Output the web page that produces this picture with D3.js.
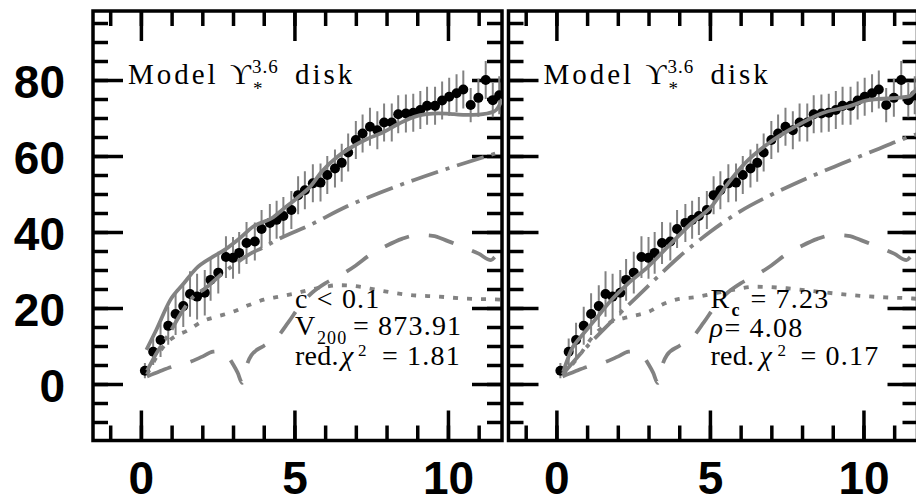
<!DOCTYPE html>
<html>
<head>
<meta charset="utf-8">
<script src="https://cdn.jsdelivr.net/npm/d3@7"></script>
<style>
  body { margin: 0; background: #fff; }
  svg { display: block; }
  .serif { font-family: "Liberation Serif", "Times New Roman", serif; fill: #000; }
</style>
</head>
<body>
<svg id="chart" width="916" height="503"></svg>
<script>
// observed rotation curve (same in both panels)
const radius = [0.13, 0.40, 0.64, 0.89, 1.13, 1.38, 1.60, 1.83, 2.08, 2.27,
  2.52, 2.77, 3.00, 3.20, 3.44, 3.71, 3.93, 4.20, 4.42, 4.64,
  4.90, 5.12, 5.34, 5.60, 5.85, 6.07, 6.32, 6.54, 6.75, 7.00,
  7.22, 7.46, 7.70, 7.92, 8.17, 8.38, 8.63, 8.87, 9.10, 9.32,
  9.58, 9.81, 10.04, 10.28, 10.50, 10.74, 10.99, 11.23, 11.46, 11.67];
const vObs = [3.5, 8.5, 11.6, 15.3, 18.4, 20.5, 23.7, 23.0, 24.0, 27.4,
  29.3, 33.4, 33.2, 34.5, 37.1, 37.5, 40.8, 42.4, 43.2, 44.2,
  45.8, 49.7, 51.0, 52.8, 53.0, 55.0, 56.7, 58.2, 60.9, 64.2,
  65.9, 67.7, 66.8, 68.8, 68.8, 71.0, 71.2, 71.4, 72.1, 73.2,
  73.2, 74.6, 75.6, 76.5, 77.5, 73.4, 75.3, 80.0, 74.7, 76.0];
const vErr = [2, 3.5, 4.5, 5, 5.5, 5.5, 6, 6, 6, 5.5,
  5.5, 5.5, 5.5, 5.5, 5.5, 5, 5, 5, 5, 5,
  5, 5, 5, 5, 5, 5, 5, 5, 5, 5,
  5, 5, 5, 5, 5, 5, 5, 5, 5, 5,
  5, 5, 5, 5, 5, 4.5, 5, 5, 4.5, 5];

// gas contribution (same in both panels)
const gasR = [0.2, 0.6, 1.0, 1.5, 2.0, 2.35, 2.6, 2.8, 3.0, 3.15, 3.3, 3.45, 3.6, 4.0,
  4.4, 4.8, 5.2, 5.6, 6.0, 6.5, 7.0, 7.5, 8.0, 8.5, 9.0, 9.5, 10.0, 10.5, 11.0, 11.4, 11.55, 11.76];
const gasV = [2, 3.3, 4.5, 5.5, 7.2, 8.5, 8.6, 7.6, 5.2, 3, 0.3, 5, 7.6, 10,
  12, 16.2, 20.8, 24.2, 26.5, 28.6, 31.2, 34.2, 36.4, 38.2, 39.2, 39.0, 37.6, 36, 34.3, 32.6, 33.6, 34.6];

// left panel: NFW model
const totalAR = [0.18, 0.5, 0.95, 1.4, 1.8, 2.35, 2.8, 3.2, 3.65, 4.3, 4.6, 5.1, 5.5, 5.9,
  6.4, 6.9, 7.4, 7.8, 8.4, 8.9, 9.3, 9.7, 10.2, 10.6, 11.0, 11.5, 11.65, 11.76];
const totalAV = [9, 14.2, 22, 26.5, 30.4, 33.5, 35.7, 38.2, 41.4, 43.8, 45.8, 49, 51.8, 56,
  59.8, 62.5, 64.6, 65.9, 68.5, 70.3, 71, 71.2, 71, 70.8, 70.9, 71.7, 73, 75];
const diskAR = [0.2, 0.5, 0.9, 1.3, 1.65, 2.1, 2.6, 3.0, 3.5, 4.0, 4.5, 5.5, 6.7, 7.8, 8.9, 10.1, 11.4, 11.76];
const diskAV = [3.5, 8, 13, 18.5, 22.5, 25.2, 28.7, 31.2, 34, 36, 38.2, 41.8, 46.7, 50.4, 53.7, 57, 60.3, 61.2];
const haloAR = [0.2, 0.5, 0.8, 1.1, 1.5, 2.0, 2.5, 3.0, 3.5, 4.0, 4.5, 5.0, 5.5, 6.0,
  6.4, 6.8, 7.2, 7.6, 8.0, 8.8, 9.7, 10.5, 11.4, 11.76];
const haloAV = [2.5, 7, 10.5, 12.5, 14, 16.5, 17.8, 19, 20.7, 22.2, 23, 23.8, 24.8, 25.6,
  26, 25.9, 25.5, 24.9, 24.3, 23.4, 23, 22.5, 22.3, 22.2];

// right panel: pseudo-isothermal model
const totalBR = [0.22, 0.54, 0.71, 1.25, 1.79, 2.34, 2.99, 3.64, 4.4, 5.05, 5.59, 6.13,
  6.9, 7.77, 8.63, 9.5, 10.15, 10.9, 11.46, 11.76];
const totalBV = [3.2, 9.8, 11.6, 16.8, 22.1, 26.5, 30.9, 36.2, 42.3, 46.7, 52.8, 58,
  63.3, 67.7, 71.2, 73, 74.7, 75.2, 75.6, 78];
const diskBR = [0.2, 0.9, 1.8, 2.7, 3.4, 4.0, 4.6, 5.0, 6.0, 7.0, 8.2, 9.3, 10.4, 11.2, 11.76];
const diskBV = [2.5, 9, 16.5, 23.5, 29, 33.5, 37.5, 40, 45.5, 49.8, 54.3, 58, 61.6, 64.2, 65.8];
const haloBR = [0.2, 0.5, 0.8, 1.0, 1.3, 1.7, 2.4, 3.0, 3.5, 4.0, 4.5, 5.0, 5.7, 6.5,
  7.5, 8.5, 9.6, 10.7, 11.6, 11.76];
const haloBV = [2.5, 5, 8, 10.5, 13.5, 16, 17.7, 19, 21.1, 22.4, 22.8, 23.6, 24.7, 25.6,
  25.2, 24.3, 23.4, 22.8, 22.5, 22.4];

// axis ticks
const xTickLabels = [0, 5, 10];
const xMinorTicks = d3.range(-1, 12, 1);
const yTickLabels = [0, 20, 40, 60, 80];
const yMinorTicks = d3.range(-10, 100, 5);

const xDomain = [-1.56, 11.76];
const yDomain = [-14.87, 98.16];
const panelW = 409;
const frameTop = 11;
const frameBottom = 440.5;
const gray = '#828282';
const tickW = 3.5;

const svg = d3.select('#chart');

const panels = [
  {
    id: 'a', left: 93, yLabels: true,
    total: [totalAR, totalAV], disk: [diskAR, diskAV], halo: [haloAR, haloAV],
    stats: 'nfw'
  },
  {
    id: 'b', left: 508.5, yLabels: false,
    total: [totalBR, totalBV], disk: [diskBR, diskBV], halo: [haloBR, haloBV],
    stats: 'iso'
  }
];

function styleAxis(g) {
  g.select('.domain').remove();
  g.selectAll('line').attr('stroke', '#000').attr('stroke-width', tickW);
  g.attr('font-family', '"Liberation Sans", Arial, sans-serif')
    .attr('font-weight', 'bold')
    .attr('font-size', 46)
    .attr('fill', '#000');
}

function drawPanel(p) {
  const x = d3.scaleLinear().domain(xDomain).range([p.left, p.left + panelW]);
  const y = d3.scaleLinear().domain(yDomain).range([frameBottom, frameTop]);
  const g = svg.append('g').attr('class', 'panel-' + p.id);

  g.append('clipPath')
    .attr('id', 'clip-' + p.id)
    .append('rect')
    .attr('x', p.left)
    .attr('y', frameTop)
    .attr('width', panelW)
    .attr('height', frameBottom - frameTop);

  // ticks on all four sides, pointing inward
  g.append('g').attr('transform', `translate(0,${frameBottom})`)
    .call(d3.axisBottom(x).tickValues(xMinorTicks).tickSize(-15).tickFormat(''))
    .call(styleAxis);
  g.append('g').attr('transform', `translate(0,${frameBottom})`)
    .call(d3.axisBottom(x).tickValues(xTickLabels).tickSize(-30).tickPadding(21).tickFormat(d3.format('d')))
    .call(styleAxis);
  g.append('g').attr('transform', `translate(0,${frameTop})`)
    .call(d3.axisTop(x).tickValues(xMinorTicks).tickSize(-15).tickFormat(''))
    .call(styleAxis);
  g.append('g').attr('transform', `translate(0,${frameTop})`)
    .call(d3.axisTop(x).tickValues(xTickLabels).tickSize(-30).tickFormat(''))
    .call(styleAxis);
  g.append('g').attr('transform', `translate(${p.left},0)`)
    .call(d3.axisLeft(y).tickValues(yMinorTicks).tickSize(-15).tickFormat(''))
    .call(styleAxis);
  const yMajor = g.append('g').attr('transform', `translate(${p.left},0)`)
    .call(d3.axisLeft(y).tickValues(yTickLabels).tickSize(-30).tickPadding(28)
      .tickFormat(p.yLabels ? d3.format('d') : ''))
    .call(styleAxis);
  yMajor.selectAll('text').attr('dy', '0.38em');
  g.append('g').attr('transform', `translate(${p.left + panelW},0)`)
    .call(d3.axisRight(y).tickValues(yMinorTicks).tickSize(-15).tickFormat(''))
    .call(styleAxis);
  g.append('g').attr('transform', `translate(${p.left + panelW},0)`)
    .call(d3.axisRight(y).tickValues(yTickLabels).tickSize(-30).tickFormat(''))
    .call(styleAxis);

  g.append('rect')
    .attr('x', p.left)
    .attr('y', frameTop)
    .attr('width', panelW)
    .attr('height', frameBottom - frameTop)
    .attr('fill', 'none')
    .attr('stroke', '#000')
    .attr('stroke-width', tickW);

  const plot = g.append('g').attr('clip-path', `url(#clip-${p.id})`);
  const obs = radius.map((r, i) => ({ r, v: vObs[i], e: vErr[i] }));

  plot.selectAll('line.err')
    .data(obs)
    .join('line')
    .attr('class', 'err')
    .attr('x1', (d) => x(d.r))
    .attr('x2', (d) => x(d.r))
    .attr('y1', (d) => y(d.v - d.e))
    .attr('y2', (d) => y(d.v + d.e))
    .attr('stroke', gray)
    .attr('stroke-width', 2);

  plot.selectAll('circle.pt')
    .data(obs)
    .join('circle')
    .attr('class', 'pt')
    .attr('cx', (d) => x(d.r))
    .attr('cy', (d) => y(d.v))
    .attr('r', 5)
    .attr('fill', '#000');

  const line = d3.line()
    .x((d) => x(d[0]))
    .y((d) => y(d[1]))
    .curve(d3.curveMonotoneX);
  const curves = [
    { xs: gasR, vs: gasV, dash: '26,20' },
    { xs: p.halo[0], vs: p.halo[1], dash: '5,9' },
    { xs: p.disk[0], vs: p.disk[1], dash: '28,8,4,8' },
    { xs: p.total[0], vs: p.total[1], dash: null }
  ];
  curves.forEach((c) => {
    plot.append('path')
      .datum(c.xs.map((r, i) => [r, c.vs[i]]))
      .attr('d', line)
      .attr('fill', 'none')
      .attr('stroke', gray)
      .attr('stroke-width', 3.8)
      .attr('stroke-dasharray', c.dash);
  });

  // labels
  const x0 = x(0);
  const title = g.append('g').attr('class', 'serif');
  title.append('text').attr('x', x0 - 13).attr('y', 84)
    .attr('font-size', 29).attr('letter-spacing', 3).text('Model');
  title.append('text').attr('x', x0 + 89).attr('y', 84)
    .attr('font-size', 29).text('\u03D2');
  title.append('text').attr('x', x0 + 111).attr('y', 73)
    .attr('font-size', 19).attr('letter-spacing', 1).text('3.6');
  title.append('text').attr('x', x0 + 112).attr('y', 95)
    .attr('font-size', 19).text('*');
  title.append('text').attr('x', x0 + 154).attr('y', 84)
    .attr('font-size', 29).attr('letter-spacing', 3).text('disk');

  const st = g.append('g').attr('class', 'serif')
    .attr('font-size', 28).attr('letter-spacing', 1.2);
  if (p.stats === 'nfw') {
    st.append('text').attr('x', x0 + 154).attr('y', 308).text('c < 0.1');
    st.append('text').attr('x', x0 + 154).attr('y', 335).text('V');
    st.append('text').attr('x', x0 + 176).attr('y', 344).attr('font-size', 18).text('200');
    st.append('text').attr('x', x0 + 212).attr('y', 335).text('= 873.91');
    st.append('text').attr('x', x0 + 154).attr('y', 365).attr('letter-spacing', 0.3).text('red.');
    st.append('text').attr('x', x0 + 200).attr('y', 365).attr('font-style', 'italic').text('\u03C7');
    st.append('text').attr('x', x0 + 217).attr('y', 356).attr('font-size', 17).text('2');
    st.append('text').attr('x', x0 + 241).attr('y', 365).text('= 1.81');
  } else {
    st.append('text').attr('x', x0 + 154).attr('y', 308).text('R');
    st.append('text').attr('x', x0 + 175).attr('y', 316).attr('font-size', 18)
      .attr('font-weight', 'bold').text('c');
    st.append('text').attr('x', x0 + 194).attr('y', 308).text('= 7.23');
    st.append('text').attr('x', x0 + 153).attr('y', 337).attr('font-style', 'italic').text('\u03C1');
    st.append('text').attr('x', x0 + 168).attr('y', 337).text('= 4.08');
    st.append('text').attr('x', x0 + 154).attr('y', 365).attr('letter-spacing', 0.3).text('red.');
    st.append('text').attr('x', x0 + 203).attr('y', 365).attr('font-style', 'italic').text('\u03C7');
    st.append('text').attr('x', x0 + 221).attr('y', 356).attr('font-size', 17).text('2');
    st.append('text').attr('x', x0 + 244).attr('y', 365).text('= 0.17');
  }
}

panels.forEach(drawPanel);
</script>
</body>
</html>
